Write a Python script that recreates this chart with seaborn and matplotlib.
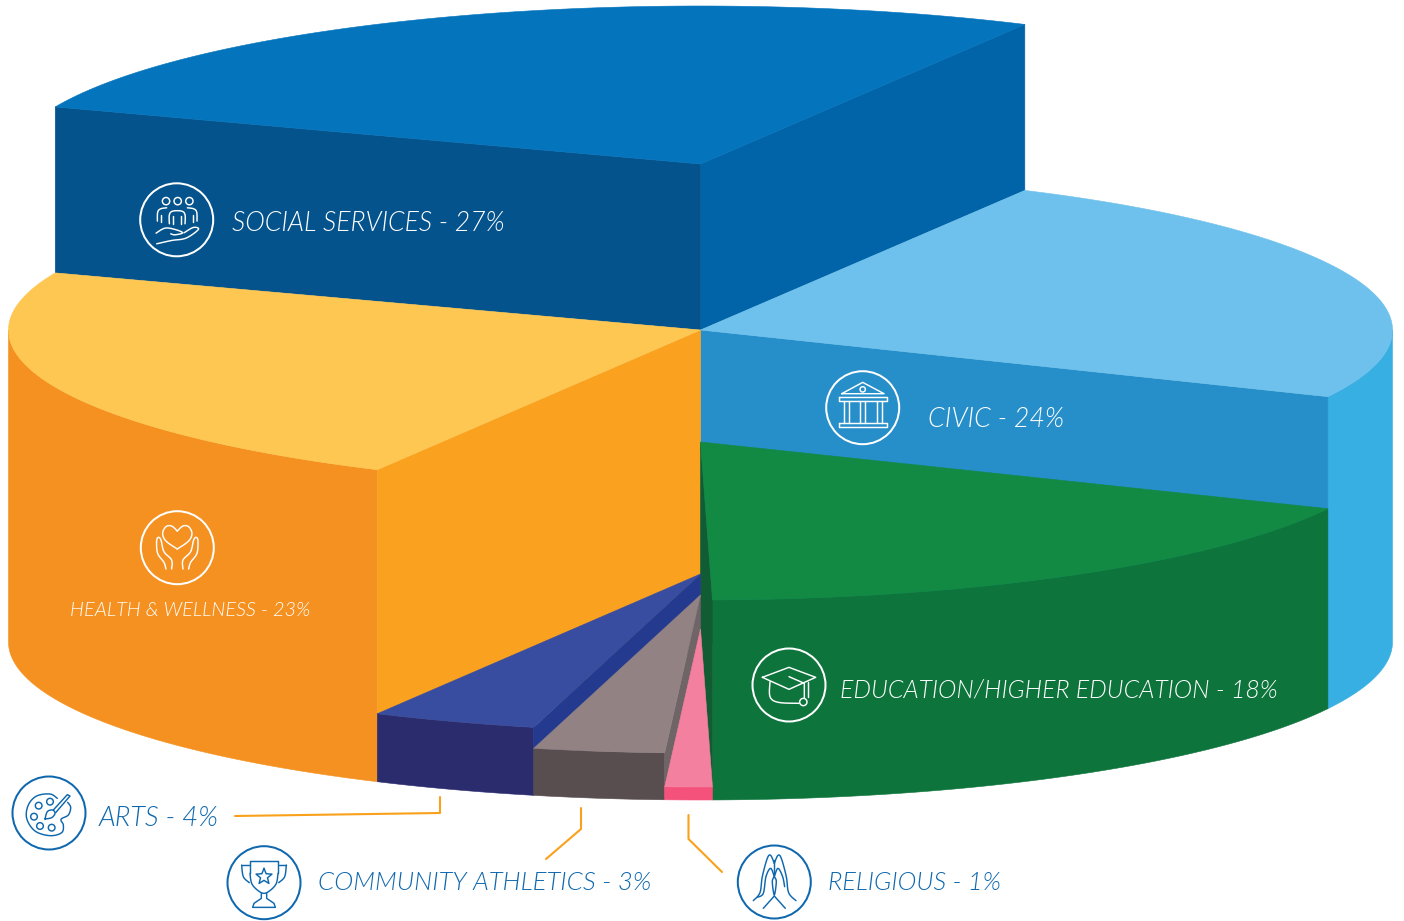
import numpy as np
import matplotlib
matplotlib.use("Agg")
import matplotlib.pyplot as plt
from matplotlib.patches import Circle
import seaborn as sns

# ---------- data ----------
categories = ["SOCIAL SERVICES", "HEALTH & WELLNESS", "ARTS", "COMMUNITY ATHLETICS",
              "RELIGIOUS", "EDUCATION/HIGHER EDUCATION", "CIVIC"]
printed_pct = [27, 23, 4, 3, 1, 18, 24]
drawn_shares = [26.88, 23.15, 3.86, 3.05, 1.10, 17.79, 24.17]
top_levels = [164, 330, 574, 595, 629, 442, 330]
base_levels = [330, 642, 642, 642, 642, 642, 642]
top_colors = ["#0474BC", "#FEC752", "#384D9F", "#928284", "#F480A0", "#128A44", "#6EC1EC"]
wall_colors = ["#0163A8", "#F59120", "#2A2C6E", "#584D4F", "#F4527A", "#0D743C", "#37AFE2"]
start_face_colors = ["#0163A8", None, None, None, None, "#125C33", "#268EC9"]
end_face_colors = ["#04538C", "#FAA11F", "#243A8F", "#6F6466", None, None, None]
draw_order = [0, 6, 1, 5, 2, 3, 4]

# ---------- projection ----------
CX, RX, RY, START_DEG = 700.5, 692, 158, 62.05

sns.set_theme(style="white")
plt.rcParams["font.family"] = ["Lato", "DejaVu Sans"]
fig = plt.figure(figsize=(14.04, 9.21), dpi=100)
ax = fig.add_axes([0, 0, 1, 1])
ax.set_xlim(0, 1404)
ax.set_ylim(921, 0)
ax.axis("off")
sns.despine(ax=ax, left=True, bottom=True)


def arc(t1, t2, level):
    t = np.radians(np.linspace(t1, t2, 200))
    return CX + RX * np.cos(t), level - RY * np.sin(t)


def rim(t, level):
    r = np.radians(t)
    return CX + RX * np.cos(r), level - RY * np.sin(r)


def fill(xs, ys, color):
    ax.fill(xs, ys, facecolor=color, edgecolor=color, linewidth=0.4, zorder=2)


def radial_face(t, top, base, color):
    x, yt = rim(t, top)
    _, yb = rim(t, base)
    fill([CX, x, x, CX], [top, yt, yb, base], color)


def front_range(t1, t2):
    """Part of the outer wall that faces the viewer (lower half of the ellipse)."""
    for lo, hi in ((180, 360), (540, 720)):
        a, b = max(t1, lo), min(t2, hi)
        if a < b:
            yield a, b


edges = START_DEG + np.concatenate([[0], np.cumsum(drawn_shares)]) * 360 / sum(drawn_shares)
for i in draw_order:
    t1, t2 = edges[i], edges[i + 1]
    top, base = top_levels[i], base_levels[i]
    for a, b in front_range(t1, t2):
        xt, yt = arc(a, b, top)
        xb, yb = arc(a, b, base)
        fill(np.r_[xt, xb[::-1]], np.r_[yt, yb[::-1]], wall_colors[i])
    if start_face_colors[i]:
        radial_face(t1, top, base, start_face_colors[i])
    if end_face_colors[i]:
        radial_face(t2, top, base, end_face_colors[i])
    xt, yt = arc(t1, t2, top)
    fill(np.r_[CX, xt], np.r_[top, yt], top_colors[i])

# ---------- leaders ----------
ORANGE = "#F9A11B"
leader_x = [[235, 440, 440], [546, 581, 581], [688.5, 688.5, 722]]
leader_y = [[816, 813, 797], [859, 829, 808], [815, 839, 872]]
for lx, ly in zip(leader_x, leader_y):
    sns.lineplot(x=lx, y=ly, sort=False, estimator=None, color=ORANGE, linewidth=1.5, ax=ax, zorder=3)
ax.set_xlabel("")
ax.set_ylabel("")
ax.set_xlim(0, 1404)
ax.set_ylim(921, 0)

# ---------- labels ----------
WHITE, BLUE = "#FFFFFF", "#0F68AE"
value_labels = [f"{c} - {s}%" for c, s in zip(categories, printed_pct)]
label_x = [232, 70, 99, 318, 828, 840, 928]
label_base = [231, 616, 826, 890, 890, 697, 427]
label_end = [506, 311, 219, 651, 1001, 1278, 1064]
label_color = [WHITE, WHITE, BLUE, BLUE, BLUE, WHITE, WHITE]
renderer = fig.canvas.get_renderer()
for s, x, y, e, c in zip(value_labels, label_x, label_base, label_end, label_color):
    t = ax.text(x, y, s, color=c, fontsize=16, fontstyle="italic", fontweight=300,
                va="baseline", ha="left", zorder=5)
    w = t.get_window_extent(renderer).width
    t.set_fontsize(16 * (e - x) / w)


# ---------- icons ----------
def smooth(pts, n=8):
    p = np.array(pts, float)
    p = np.vstack([p[0], p, p[-1]])
    out = []
    for i in range(1, len(p) - 2):
        for u in np.linspace(0, 1, n, endpoint=False):
            out.append(0.5 * ((2 * p[i]) + (p[i + 1] - p[i - 1]) * u
                              + (2 * p[i - 1] - 5 * p[i] + 4 * p[i + 1] - p[i + 2]) * u ** 2
                              + (3 * p[i] - p[i - 1] - 3 * p[i + 1] + p[i + 2]) * u ** 3))
    out.append(p[-2])
    return np.array(out)


def icon(cx, cy, color, lines=(), curves=(), rings=(), scale=1 / 3, lw=1.05):
    ax.add_patch(Circle((cx, cy), 36.5, fill=False, edgecolor=color, linewidth=1.45, zorder=5))
    for pts in lines:
        p = np.array(pts, float) * scale
        ax.plot(cx + p[:, 0], cy + p[:, 1], color=color, lw=lw, solid_capstyle="round",
                solid_joinstyle="round", zorder=5)
    for pts in curves:
        p = smooth(pts) * scale
        ax.plot(cx + p[:, 0], cy + p[:, 1], color=color, lw=lw, solid_capstyle="round", zorder=5)
    for rx, ry, r in rings:
        ax.add_patch(Circle((cx + rx * scale, cy + ry * scale), r * scale, fill=False,
                            edgecolor=color, linewidth=lw, zorder=5))


def shifted(pts, ox, oy):
    return [(x - ox, y - oy) for x, y in pts]


# social services
o = (140, 133)
icon(176.7, 219.8, WHITE,
     curves=[shifted(q, *o) for q in [
         [(118, 145), (118, 118), (128, 107), (155, 107), (165, 118), (165, 145)],
         [(82, 137), (83, 110), (92, 100), (110, 97)],
         [(201, 137), (200, 110), (191, 100), (172, 97)],
         [(78, 173), (105, 158), (135, 162), (158, 172), (135, 178), (122, 175)],
         [(80, 205), (125, 195), (168, 188), (205, 162), (190, 156), (162, 172)]]],
     lines=[shifted(q, *o) for q in [
         [(130, 145), (130, 122)], [(153, 145), (153, 122)],
         [(94, 140), (94, 118)], [(189, 140), (189, 118)]]],
     rings=[(-32, -56, 11), (3, -56, 11), (38, -56, 11)])

# civic
o = (128, 128)
icon(862.7, 407.7, WHITE,
     lines=[shifted(q, *o) for q in [
         [(65, 86), (128, 52), (192, 86), (65, 86)],
         [(58, 96), (200, 96), (200, 108), (58, 108), (58, 96)],
         [(58, 174), (200, 174), (200, 186), (58, 186), (58, 174)],
         [(72, 108), (72, 174)], [(86, 108), (86, 174)],
         [(119, 108), (119, 174)], [(135, 108), (135, 174)],
         [(171, 108), (171, 174)], [(186, 108), (186, 174)]]],
     rings=[(0, -55, 8)])

# health
o = (352, 128)
icon(177.3, 547.7, WHITE,
     curves=[shifted(q, *o) for q in [
         [(352, 78), (335, 63), (318, 65), (308, 85), (318, 108), (352, 132)],
         [(352, 78), (369, 63), (386, 65), (396, 85), (386, 108), (352, 132)],
         [(335, 192), (335, 165), (312, 140), (303, 105), (295, 97), (290, 108), (293, 145), (312, 172), (318, 192)],
         [(369, 192), (369, 165), (392, 140), (401, 105), (409, 97), (414, 108), (411, 145), (392, 172), (386, 192)]]])

# education
o = (132, 135)
icon(789, 685, WHITE,
     lines=[shifted(q, *o) for q in [
         [(52, 112), (132, 82), (212, 112), (132, 148), (52, 112)],
         [(132, 110), (178, 130), (178, 175)],
         [(190, 125), (190, 172)]]],
     curves=[shifted(q, *o) for q in [[(75, 125), (75, 170), (100, 187), (162, 190)]]],
     rings=[(43, 51, 11)])

# arts
o = (147, 129)
icon(49, 813, BLUE,
     curves=[shifted(q, *o) for q in [
         [(172, 85), (150, 72), (110, 78), (85, 105), (80, 145), (105, 183), (150, 197), (185, 188), (190, 165),
          (183, 148), (205, 135), (212, 112), (203, 97)],
         [(135, 147), (142, 125), (158, 120), (165, 130), (155, 143), (135, 147)]]],
     lines=[shifted(q, *o) for q in [
         [(160, 120), (202, 74), (210, 78), (167, 128)]]],
     rings=[(-31, -22, 10), (3, -34, 10), (-45, 11, 10), (-27, 39, 10), (8, 44, 10)])

# community athletics
o = (792, 338)
star_r = [25 if k % 2 == 0 else 11 for k in range(11)]
star = [(792 + r * np.sin(np.radians(36 * k)), 320 - r * np.cos(np.radians(36 * k))) for k, r in enumerate(star_r)]
icon(264, 882.7, BLUE,
     curves=[shifted(q, *o) for q in [
         [(750, 310), (755, 340), (772, 360), (792, 370), (812, 360), (829, 340), (834, 310)],
         [(748, 338), (730, 320), (725, 285)],
         [(836, 338), (854, 320), (859, 285)]]],
     lines=[shifted(q, *o) for q in [
         [(750, 310), (750, 274), (834, 274), (834, 310)],
         [(725, 285), (748, 285)], [(859, 285), (836, 285)],
         [(784, 370), (784, 385), (762, 400), (758, 412), (826, 412), (822, 400), (800, 385), (800, 370)],
         star]])

# religious
o = (733, 306)
icon(774.3, 882, BLUE,
     curves=[shifted(q, *o) for q in [
         [(733, 250), (722, 226), (712, 235), (697, 290), (690, 338), (670, 362)],
         [(733, 250), (744, 226), (754, 235), (769, 290), (776, 338), (798, 362)],
         [(733, 290), (722, 265), (708, 290), (700, 340), (682, 352)],
         [(733, 290), (744, 265), (758, 290), (764, 320)],
         [(733, 290), (727, 305), (733, 345), (739, 305), (733, 290)]]],
     lines=[shifted(q, *o) for q in [
         [(733, 240), (733, 285)],
         [(733, 348), (700, 385)], [(733, 348), (766, 385)]]])

fig.savefig("out.png", dpi=100, facecolor="white")
